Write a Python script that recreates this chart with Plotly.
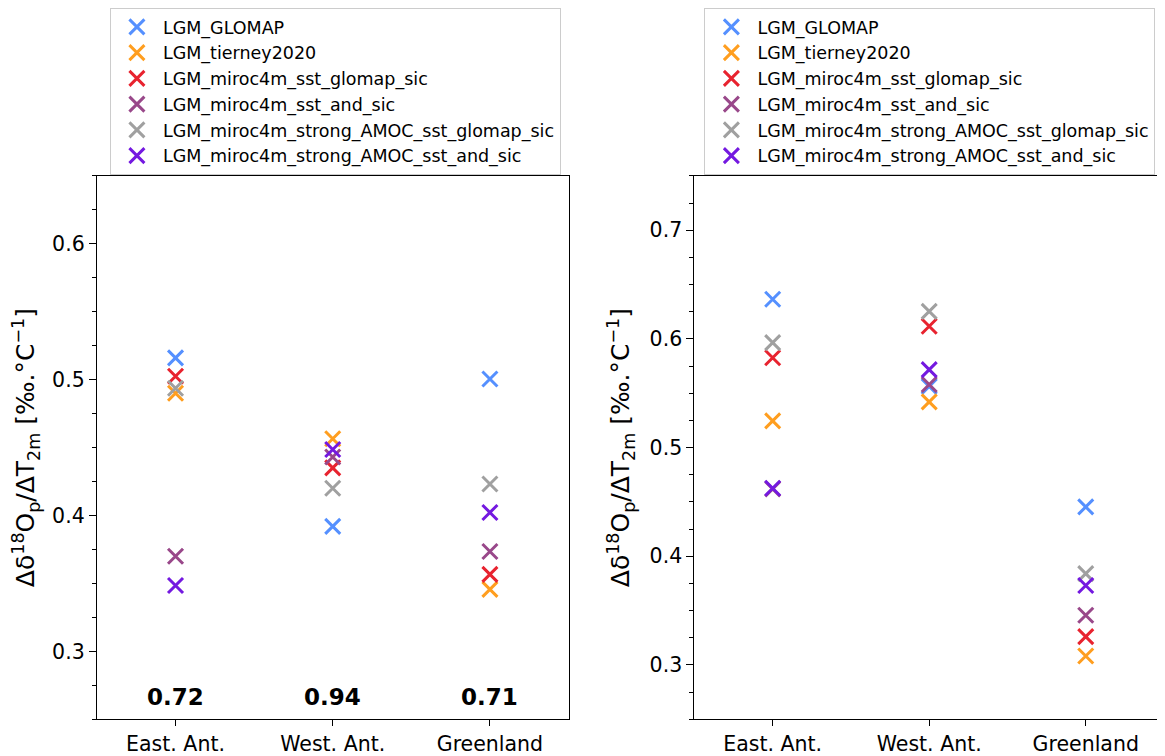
import plotly.graph_objects as go

regions = ["East. Ant.", "West. Ant.", "Greenland"]
series_names = [
    "LGM_GLOMAP",
    "LGM_tierney2020",
    "LGM_miroc4m_sst_glomap_sic",
    "LGM_miroc4m_sst_and_sic",
    "LGM_miroc4m_strong_AMOC_sst_glomap_sic",
    "LGM_miroc4m_strong_AMOC_sst_and_sic",
]
colors = ["#5590FF", "#FF9E1F", "#E8232F", "#99488A", "#A0A0A0", "#7419E0"]

# left panel values (per series: East, West, Greenland)
left_vals = [
    [0.516, 0.392, 0.5005],
    [0.490, 0.4565, 0.3456],
    [0.5025, 0.435, 0.3566],
    [0.370, 0.443, 0.3735],
    [0.4937, 0.420, 0.4232],
    [0.3484, 0.4486, 0.4022],
]
# right panel values
right_vals = [
    [0.6365, 0.5563, 0.4454],
    [0.5246, 0.542, 0.3082],
    [0.5826, 0.6116, 0.326],
    [0.462, 0.558, 0.3457],
    [0.5966, 0.6253, 0.384],
    [0.4625, 0.5717, 0.373],
]
corr_labels = ["0.72", "0.94", "0.71"]

OFF = 8  # page body margin
W, H = 1165 - OFF, 756 - OFF
FONT = "DejaVu Sans"


def px_x(p):
    return (p - OFF) / W


def px_y(p):
    return 1 - (p - OFF) / H


fig = go.Figure()
xpos = list(range(len(regions)))
for i, name in enumerate(series_names):
    fig.add_trace(go.Scatter(
        x=xpos, y=left_vals[i], mode="markers", name=name,
        marker=dict(symbol="x-thin", size=15, color=colors[i],
                    line=dict(width=3, color=colors[i])),
        xaxis="x", yaxis="y", legend="legend",
    ))
for i, name in enumerate(series_names):
    fig.add_trace(go.Scatter(
        x=xpos, y=right_vals[i], mode="markers", name=name,
        marker=dict(symbol="x-thin", size=15, color=colors[i],
                    line=dict(width=3, color=colors[i])),
        xaxis="x2", yaxis="y2", legend="legend2",
    ))

for j, t in enumerate(corr_labels):
    fig.add_annotation(x=xpos[j], y=0.04, xref="x", yref="y domain",
                       text="<b>%s</b>" % t, showarrow=False,
                       font=dict(family=FONT, size=23, color="black"),
                       yanchor="middle")

ytitle = "Δδ<sup>18</sup>O<sub>p</sub>/ΔT<sub>2m</sub> [‰.°C<sup>−1</sup>]"

common_x = dict(
    tickmode="array", tickvals=xpos, ticktext=regions, range=[-0.5, 2.5],
    showline=True, linecolor="black", linewidth=1.2, mirror=True,
    ticks="outside", ticklen=6, tickcolor="black", showgrid=False, zeroline=False,
    tickfont=dict(family=FONT, size=20.5, color="black"),
)
common_y = dict(
    dtick=0.1, tick0=0, tickformat=".1f",
    showline=True, linecolor="black", linewidth=1.2, mirror=True,
    ticks="outside", ticklen=7, tickcolor="black", showgrid=False, zeroline=False,
    tickfont=dict(family=FONT, size=20.5, color="black"),
    minor=dict(dtick=0.025, tick0=0, ticks="outside", ticklen=4, tickcolor="black", showgrid=False),
    title=dict(text=ytitle, font=dict(family=FONT, size=25, color="black"), standoff=12),
)

legend_common = dict(
    xanchor="left", yanchor="top",
    bordercolor="#cccccc", borderwidth=1, bgcolor="white",
    font=dict(family=FONT, size=17.5, color="black"),
    itemwidth=42,
)

fig.update_layout(
    width=W, height=H,
    margin=dict(l=0, r=0, t=0, b=0),
    paper_bgcolor="white", plot_bgcolor="white",
    font=dict(family=FONT, color="black"),
    xaxis=dict(domain=[px_x(97), px_x(569)], anchor="y", **common_x),
    yaxis=dict(domain=[px_y(722), px_y(175)], anchor="x", range=[0.25, 0.65], **common_y),
    xaxis2=dict(domain=[px_x(695), 1.0], anchor="y2", **common_x),
    yaxis2=dict(domain=[px_y(722), px_y(175)], anchor="x2", range=[0.25, 0.75], **common_y),
    legend=dict(x=px_x(110), y=px_y(6), **legend_common),
    legend2=dict(x=px_x(705), y=px_y(6), **legend_common),
)

fig.write_html("out.html")
